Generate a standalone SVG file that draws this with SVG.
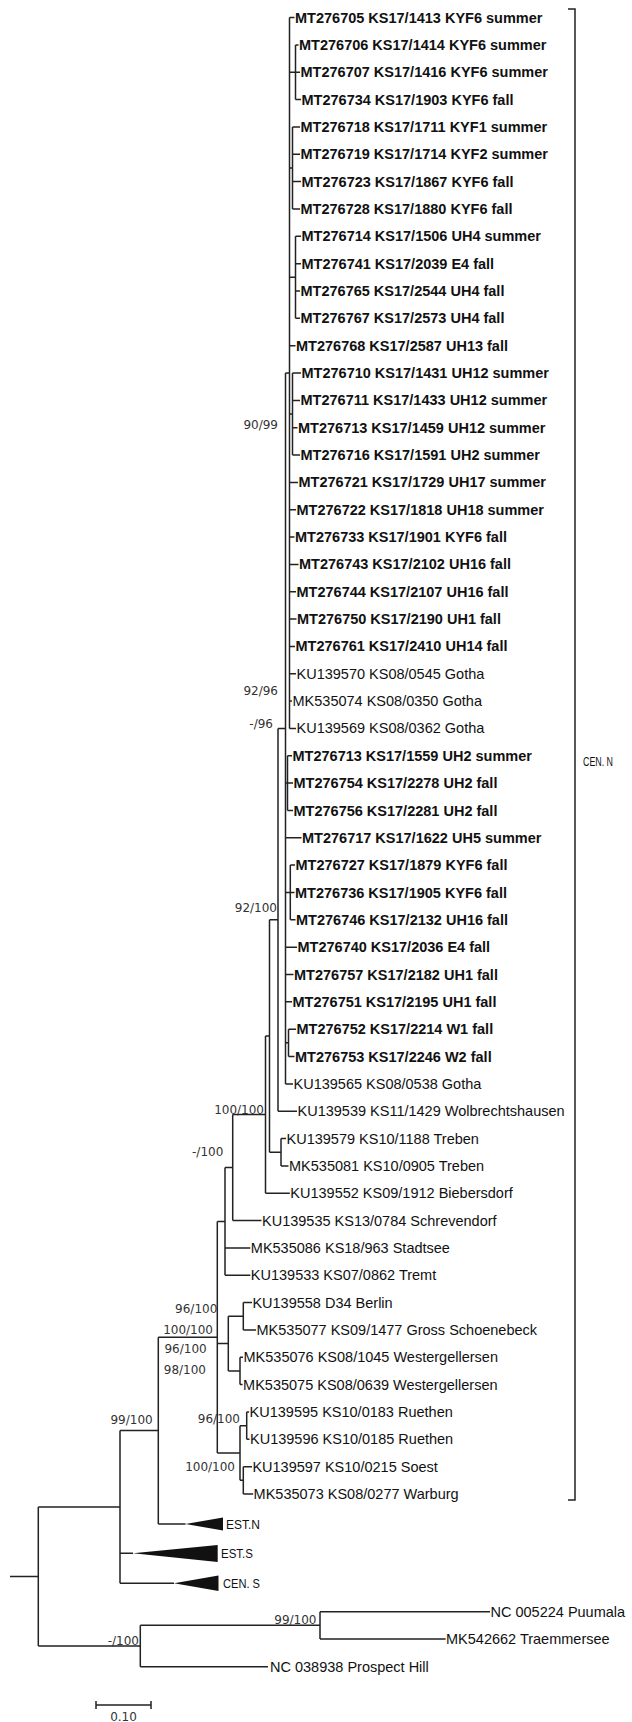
<svg xmlns="http://www.w3.org/2000/svg" width="632" height="1722" viewBox="0 0 632 1722">
<style>
.l{font-family:"Liberation Sans",Arial,sans-serif;font-size:14.5px;fill:#111}
.b{font-weight:bold}
.s{font-family:"DejaVu Sans",Verdana,sans-serif;font-size:12px;fill:#333;text-anchor:end}
.c{font-family:"Liberation Sans",Arial,sans-serif;font-size:12px;fill:#111}
.e{stroke:#222;stroke-width:1.5;fill:none}
.t{fill:#111}
</style>
<rect width="632" height="1722" fill="#fff"/>
<g id="connectors" class="e">
<path d="M10 1576.5H38.3M38.3 1507V1646M38.3 1507H120M38.3 1646H140.3"/>
<path d="M120 1430.6V1583.3M120 1430.6H158.3M120 1553.3H133M120 1583.3H174"/>
<path d="M158.3 1337.2V1524M158.3 1337.2H217.3M158.3 1524H185.5"/>
<path d="M217.3 1221.4V1453M217.3 1221.4H225M217.3 1343.6H228.3M217.3 1453H240"/>
<path d="M225 1167.6V1275.3M225 1167.6H232.7M225 1247.9H250.3M225 1275.3H250.3"/>
<path d="M232.7 1114.6V1220.6M232.7 1114.6H265.5M232.7 1220.6H261.5"/>
<path d="M265.5 1036V1193.2M265.5 1036H269.5M265.5 1193.2H289.8"/>
<path d="M269.5 919.8V1152.2M269.5 919.8H278M269.5 1152.2H281"/>
<path d="M281 1138.6V1165.9M281 1138.6H286M281 1165.9H288.5"/>
<path d="M278 728.4V1111.2M278 728.4H285.5M278 1111.2H297"/>
<path d="M285.5 373V1083.9M285.5 373H289.5M285.5 783.1H287.5M285.5 837.8H301.5M285.5 892.5H290.3M285.5 947.2H297M285.5 974.5H293.5M285.5 1001.8H292M285.5 1042.8H288.5M285.5 1083.9H293"/>
<path d="M287.5 755.8V810.5M287.5 755.8H292M287.5 783.1H293M287.5 810.5H293"/>
<path d="M290.3 865.1V919.8M290.3 865.1H295M290.3 892.5H294.5M290.3 919.8H295.5"/>
<path d="M288.5 1029.2V1056.5M288.5 1029.2H296M288.5 1056.5H294.5"/>
<path d="M289.5 17.6V728.4M289.5 17.6H294.5M289.5 72.3H295.5M289.5 168H292.5M289.5 277.3H295.5M289.5 345.7H295.5M289.5 414H292.5M289.5 482.4H298M289.5 509.7H296M289.5 537.1H294.5M289.5 564.4H298.5M289.5 591.7H296M289.5 619.1H296.5M289.5 646.4H295M289.5 673.8H296M289.5 701.1H292M289.5 728.4H296"/>
<path d="M295.5 44.9V99.6M295.5 44.9H298.5M295.5 72.3H300M295.5 99.6H301"/>
<path d="M292.5 127V209M292.5 127H300M292.5 154.3H300M292.5 181.6H301M292.5 209H300"/>
<path d="M295.5 236.3V318.3M295.5 236.3H301M295.5 263.7H301M295.5 291H300M295.5 318.3H300"/>
<path d="M292.5 373V455M292.5 373H301M292.5 400.4H300M292.5 427.7H297.5M292.5 455H300"/>
<path d="M228.3 1316.3V1371M228.3 1316.3H243.3M228.3 1371H240"/>
<path d="M243.3 1302.6V1329.9M243.3 1302.6H252M243.3 1329.9H256"/>
<path d="M240 1357.3V1384.6M240 1357.3H243M240 1384.6H242.6"/>
<path d="M240 1425.7V1480.3M240 1425.7H246.7M240 1480.3H243.3"/>
<path d="M246.7 1412V1439.3M246.7 1412H249.1M246.7 1439.3H249.5"/>
<path d="M243.3 1466.7V1494M243.3 1466.7H252M243.3 1494H253.1"/>
<path d="M140.3 1625.3V1666.7M140.3 1625.3H320M140.3 1666.7H268M320 1611.7V1639M320 1611.7H490M320 1639H445.6"/>
</g>
<g id="bracket-cen-n" class="e"><path d="M568 9H575V1500H568"/></g>
<g id="leaves">
<g id="n1"><text class="l b" x="295" y="22.6">MT276705 KS17/1413 KYF6 summer</text></g>
<g id="n2"><text class="l b" x="299" y="49.9">MT276706 KS17/1414 KYF6 summer</text></g>
<g id="n3"><text class="l b" x="300.5" y="77.3">MT276707 KS17/1416 KYF6 summer</text></g>
<g id="n4"><text class="l b" x="301.5" y="104.6">MT276734 KS17/1903 KYF6 fall</text></g>
<g id="n5"><text class="l b" x="300.5" y="132">MT276718 KS17/1711 KYF1 summer</text></g>
<g id="n6"><text class="l b" x="300.5" y="159.3">MT276719 KS17/1714 KYF2 summer</text></g>
<g id="n7"><text class="l b" x="301.5" y="186.6">MT276723 KS17/1867 KYF6 fall</text></g>
<g id="n8"><text class="l b" x="300.5" y="214">MT276728 KS17/1880 KYF6 fall</text></g>
<g id="n9"><text class="l b" x="301.5" y="241.3">MT276714 KS17/1506 UH4 summer</text></g>
<g id="n10"><text class="l b" x="301.5" y="268.7">MT276741 KS17/2039 E4 fall</text></g>
<g id="n11"><text class="l b" x="300.5" y="296">MT276765 KS17/2544 UH4 fall</text></g>
<g id="n12"><text class="l b" x="300.5" y="323.3">MT276767 KS17/2573 UH4 fall</text></g>
<g id="n13"><text class="l b" x="296" y="350.7">MT276768 KS17/2587 UH13 fall</text></g>
<g id="n14"><text class="l b" x="301.5" y="378">MT276710 KS17/1431 UH12 summer</text></g>
<g id="n15"><text class="l b" x="300.5" y="405.4">MT276711 KS17/1433 UH12 summer</text></g>
<g id="n16"><text class="l b" x="298" y="432.7">MT276713 KS17/1459 UH12 summer</text></g>
<g id="n17"><text class="l b" x="300.5" y="460">MT276716 KS17/1591 UH2 summer</text></g>
<g id="n18"><text class="l b" x="298.5" y="487.4">MT276721 KS17/1729 UH17 summer</text></g>
<g id="n19"><text class="l b" x="296.5" y="514.7">MT276722 KS17/1818 UH18 summer</text></g>
<g id="n20"><text class="l b" x="295" y="542.1">MT276733 KS17/1901 KYF6 fall</text></g>
<g id="n21"><text class="l b" x="299" y="569.4">MT276743 KS17/2102 UH16 fall</text></g>
<g id="n22"><text class="l b" x="296.5" y="596.7">MT276744 KS17/2107 UH16 fall</text></g>
<g id="n23"><text class="l b" x="297" y="624.1">MT276750 KS17/2190 UH1 fall</text></g>
<g id="n24"><text class="l b" x="295.5" y="651.4">MT276761 KS17/2410 UH14 fall</text></g>
<g id="n25"><text class="l" x="296.5" y="678.8">KU139570 KS08/0545 Gotha</text></g>
<g id="n26"><text class="l" x="292.5" y="706.1">MK535074 KS08/0350 Gotha</text></g>
<g id="n27"><text class="l" x="296.5" y="733.4">KU139569 KS08/0362 Gotha</text></g>
<g id="n28"><text class="l b" x="292.5" y="760.8">MT276713 KS17/1559 UH2 summer</text></g>
<g id="n29"><text class="l b" x="293.5" y="788.1">MT276754 KS17/2278 UH2 fall</text></g>
<g id="n30"><text class="l b" x="293.5" y="815.5">MT276756 KS17/2281 UH2 fall</text></g>
<g id="n31"><text class="l b" x="302" y="842.8">MT276717 KS17/1622 UH5 summer</text></g>
<g id="n32"><text class="l b" x="295.5" y="870.1">MT276727 KS17/1879 KYF6 fall</text></g>
<g id="n33"><text class="l b" x="295" y="897.5">MT276736 KS17/1905 KYF6 fall</text></g>
<g id="n34"><text class="l b" x="296" y="924.8">MT276746 KS17/2132 UH16 fall</text></g>
<g id="n35"><text class="l b" x="297.5" y="952.2">MT276740 KS17/2036 E4 fall</text></g>
<g id="n36"><text class="l b" x="294" y="979.5">MT276757 KS17/2182 UH1 fall</text></g>
<g id="n37"><text class="l b" x="292.5" y="1006.8">MT276751 KS17/2195 UH1 fall</text></g>
<g id="n38"><text class="l b" x="296.5" y="1034.2">MT276752 KS17/2214 W1 fall</text></g>
<g id="n39"><text class="l b" x="295" y="1061.5">MT276753 KS17/2246 W2 fall</text></g>
<g id="n40"><text class="l" x="293.5" y="1088.9">KU139565 KS08/0538 Gotha</text></g>
<g id="n41"><text class="l" x="297.5" y="1116.2">KU139539 KS11/1429 Wolbrechtshausen</text></g>
<g id="n42"><text class="l" x="286.5" y="1143.6">KU139579 KS10/1188 Treben</text></g>
<g id="n43"><text class="l" x="289" y="1170.9">MK535081 KS10/0905 Treben</text></g>
<g id="n44"><text class="l" x="290.3" y="1198.2">KU139552 KS09/1912 Biebersdorf</text></g>
<g id="n45"><text class="l" x="262" y="1225.6">KU139535 KS13/0784 Schrevendorf</text></g>
<g id="n46"><text class="l" x="250.8" y="1252.9">MK535086 KS18/963 Stadtsee</text></g>
<g id="n47"><text class="l" x="250.8" y="1280.3">KU139533 KS07/0862 Tremt</text></g>
<g id="n48"><text class="l" x="252.4" y="1307.6">KU139558 D34 Berlin</text></g>
<g id="n49"><text class="l" x="256.5" y="1334.9">MK535077 KS09/1477 Gross Schoenebeck</text></g>
<g id="n50"><text class="l" x="243.5" y="1362.3">MK535076 KS08/1045 Westergellersen</text></g>
<g id="n51"><text class="l" x="243.1" y="1389.6">MK535075 KS08/0639 Westergellersen</text></g>
<g id="n52"><text class="l" x="249.6" y="1417">KU139595 KS10/0183 Ruethen</text></g>
<g id="n53"><text class="l" x="250" y="1444.3">KU139596 KS10/0185 Ruethen</text></g>
<g id="n54"><text class="l" x="252.4" y="1471.7">KU139597 KS10/0215 Soest</text></g>
<g id="n55"><text class="l" x="253.6" y="1499">MK535073 KS08/0277 Warburg</text></g>
<g id="n-puumala"><text class="l" x="490.5" y="1616.7">NC 005224 Puumala</text></g>
<g id="n-traemmersee"><text class="l" x="446" y="1644">MK542662 Traemmersee</text></g>
<g id="n-prospect"><text class="l" x="270" y="1671.7">NC 038938 Prospect Hill</text></g>
</g>
<g id="collapsed-est-n"><polygon class="t" points="185.5,1524 223,1517.5 223,1530.5"/><text class="c" x="226" y="1528.5" textLength="34" lengthAdjust="spacingAndGlyphs">EST.N</text></g>
<g id="collapsed-est-s"><polygon class="t" points="133,1553.3 217.7,1545 217.7,1562"/><text class="c" x="221" y="1558" textLength="32" lengthAdjust="spacingAndGlyphs">EST.S</text></g>
<g id="collapsed-cen-s"><polygon class="t" points="174,1583.3 218.5,1575.5 218.5,1591"/><text class="c" x="223" y="1588" textLength="37" lengthAdjust="spacingAndGlyphs">CEN. S</text></g>
<g id="label-cen-n"><text class="c" x="583" y="766" textLength="30" lengthAdjust="spacingAndGlyphs">CEN. N</text></g>
<g id="support">
<text class="s" x="278" y="429">90/99</text>
<text class="s" x="278" y="694.5">92/96</text>
<text class="s" x="273" y="728">-/96</text>
<text class="s" x="277" y="912">92/100</text>
<text class="s" x="264" y="1114">100/100</text>
<text class="s" x="223.3" y="1155.5">-/100</text>
<text class="s" x="217.3" y="1313">96/100</text>
<text class="s" x="213" y="1334">100/100</text>
<text class="s" x="206.7" y="1352.5">96/100</text>
<text class="s" x="206" y="1374">98/100</text>
<text class="s" x="152.7" y="1423.5">99/100</text>
<text class="s" x="240" y="1422.5">96/100</text>
<text class="s" x="235" y="1471">100/100</text>
<text class="s" x="316.5" y="1623.5">99/100</text>
<text class="s" x="139" y="1645">-/100</text>
</g>
<g id="scale-bar"><path class="e" d="M96 1705H151M96 1701V1709M151 1701V1709"/><text class="s" x="123.5" y="1721" style="text-anchor:middle">0.10</text></g>
</svg>
